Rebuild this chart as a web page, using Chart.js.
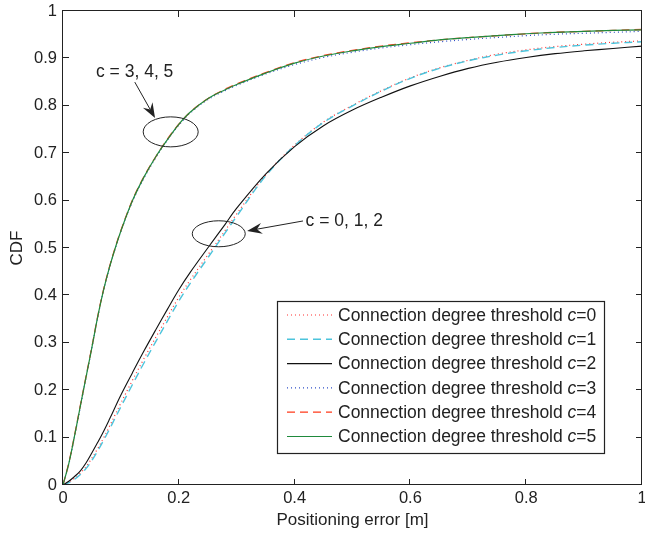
<!DOCTYPE html>
<html>
<head>
<meta charset="utf-8">
<script src="https://cdn.jsdelivr.net/npm/chart.js@4.4.0/dist/chart.umd.min.js"></script>
<style>
  html, body { margin: 0; padding: 0; background: #fff; }
</style>
</head>
<body>
<canvas id="cdf" width="645" height="533"></canvas>
<script>
// positioning error CDF for connection degree thresholds c = 0..5

const errX = [0, 0.01, 0.02, 0.03, 0.04, 0.05, 0.06, 0.07, 0.08, 0.09, 0.1, 0.12, 0.14, 0.16, 0.18, 0.2,
  0.22, 0.25, 0.28, 0.3, 0.35, 0.4, 0.45, 0.5, 0.55, 0.6, 0.65, 0.7, 0.75, 0.8, 0.85, 0.9, 0.95, 1.0];

const cdfC0 = [0, 0.006, 0.014, 0.025, 0.039, 0.057, 0.077, 0.099, 0.123, 0.148, 0.173, 0.221, 0.267, 0.311, 0.354, 0.396,
  0.433, 0.485, 0.537, 0.572, 0.654, 0.717, 0.766, 0.801, 0.832, 0.859, 0.880, 0.896, 0.909, 0.918, 0.925, 0.930, 0.934, 0.937];
const cdfC1 = [0, 0.005, 0.012, 0.022, 0.035, 0.052, 0.072, 0.094, 0.117, 0.141, 0.165, 0.212, 0.258, 0.302, 0.345, 0.388,
  0.426, 0.479, 0.532, 0.567, 0.652, 0.716, 0.765, 0.800, 0.831, 0.858, 0.879, 0.895, 0.907, 0.916, 0.923, 0.928, 0.932, 0.935];
const cdfC2 = [0, 0.008, 0.018, 0.030, 0.047, 0.068, 0.090, 0.113, 0.138, 0.164, 0.190, 0.237, 0.283, 0.327, 0.370, 0.412,
  0.449, 0.500, 0.550, 0.584, 0.656, 0.714, 0.758, 0.791, 0.818, 0.842, 0.862, 0.879, 0.892, 0.902, 0.910, 0.916, 0.921, 0.926];
const cdfC3 = [0, 0.044, 0.102, 0.165, 0.228, 0.290, 0.354, 0.410, 0.457, 0.498, 0.535, 0.598, 0.648, 0.690, 0.727, 0.759,
  0.785, 0.813, 0.832, 0.843, 0.867, 0.887, 0.902, 0.913, 0.922, 0.929, 0.935, 0.940, 0.944, 0.948, 0.951, 0.953, 0.955, 0.957];
const cdfC4 = [0, 0.046, 0.105, 0.168, 0.230, 0.292, 0.356, 0.412, 0.459, 0.500, 0.537, 0.601, 0.651, 0.692, 0.729, 0.761,
  0.787, 0.815, 0.835, 0.846, 0.870, 0.891, 0.906, 0.917, 0.926, 0.933, 0.939, 0.944, 0.948, 0.952, 0.955, 0.957, 0.959, 0.961];
const cdfC5 = [0, 0.045, 0.104, 0.167, 0.229, 0.291, 0.355, 0.411, 0.458, 0.499, 0.536, 0.600, 0.650, 0.692, 0.728, 0.761,
  0.787, 0.815, 0.834, 0.845, 0.869, 0.890, 0.905, 0.916, 0.925, 0.932, 0.939, 0.944, 0.948, 0.952, 0.955, 0.957, 0.959, 0.960];

const xTicks = [0, 0.2, 0.4, 0.6, 0.8, 1];
const yTicks = [0, 0.1, 0.2, 0.3, 0.4, 0.5, 0.6, 0.7, 0.8, 0.9, 1];
const thresholds = ['0', '1', '2', '3', '4', '5'];

const FONT = "'Liberation Sans', Arial, Helvetica, sans-serif";
const INK = '#222';

const styles = [
  { color: '#ff3030', dash: [1, 3], width: 1.2 },
  { color: '#4cc4dc', dash: [8, 5], width: 1.4 },
  { color: '#111111', dash: [],     width: 1.1 },
  { color: '#3050c8', dash: [1, 3], width: 1.2 },
  { color: '#ff3a1a', dash: [8, 5], width: 1.3 },
  { color: '#1f8a3c', dash: [],     width: 1.2 }
];
const series = [cdfC0, cdfC1, cdfC2, cdfC3, cdfC4, cdfC5];

const datasets = series.map((vals, i) => ({
  label: 'Connection degree threshold c=' + thresholds[i],
  data: errX.map((x, k) => ({ x: x, y: vals[k] })),
  borderColor: styles[i].color,
  borderDash: styles[i].dash,
  borderWidth: styles[i].width,
  pointRadius: 0,
  fill: false,
  tension: 0.35,
  order: series.length - i
}));

// annotations in data coords, arrows go from tail to tip
const notes = [
  { text: 'c = 3, 4, 5', tx: 0.057, ty: 0.870, tail: [0.124, 0.850], tip: [0.159, 0.774], ell: [0.186, 0.745], rx: 27.5, ry: 15 },
  { text: 'c = 0, 1, 2', tx: 0.419, ty: 0.556, tail: [0.4145, 0.557], tip: [0.318, 0.536], ell: [0.269, 0.530], rx: 26.5, ry: 13 }
];

function drawArrow(ctx, x1, y1, x2, y2) {
  const a = Math.atan2(y2 - y1, x2 - x1);
  const L = 15, W = 5.5, N = 10;
  const c = Math.cos(a), s = Math.sin(a);
  const bx = x2 - L * c, by = y2 - L * s;
  const nx = x2 - N * c, ny = y2 - N * s;
  ctx.beginPath();
  ctx.moveTo(x1, y1);
  ctx.lineTo(nx, ny);
  ctx.stroke();
  ctx.beginPath();
  ctx.moveTo(x2, y2);
  ctx.lineTo(bx - W * s, by + W * c);
  ctx.lineTo(nx, ny);
  ctx.lineTo(bx + W * s, by - W * c);
  ctx.closePath();
  ctx.fill();
}

const extras = {
  id: 'extras',
  afterDatasetsDraw(chart) {
    const { ctx, chartArea: a, scales: { x, y } } = chart;
    ctx.save();

    // box + inward ticks, matlab style
    ctx.strokeStyle = INK;
    ctx.lineWidth = 1;
    ctx.setLineDash([]);
    ctx.beginPath();
    xTicks.forEach(v => {
      const px = Math.round(x.getPixelForValue(v)) - 0.5;
      ctx.moveTo(px, a.bottom); ctx.lineTo(px, a.bottom - 6);
      ctx.moveTo(px, a.top); ctx.lineTo(px, a.top + 6);
    });
    yTicks.forEach(v => {
      const py = Math.round(y.getPixelForValue(v)) - 0.5;
      ctx.moveTo(a.left, py); ctx.lineTo(a.left + 6, py);
      ctx.moveTo(a.right, py); ctx.lineTo(a.right - 6, py);
    });
    ctx.stroke();
    ctx.strokeRect(a.left - 0.5, a.top - 0.5, a.right - a.left, a.bottom - a.top);

    // annotations
    ctx.fillStyle = INK;
    ctx.strokeStyle = INK;
    ctx.font = '17.5px ' + FONT;
    ctx.textBaseline = 'middle';
    ctx.textAlign = 'left';
    notes.forEach(n => {
      ctx.fillText(n.text, x.getPixelForValue(n.tx), y.getPixelForValue(n.ty));
      ctx.beginPath();
      ctx.ellipse(x.getPixelForValue(n.ell[0]), y.getPixelForValue(n.ell[1]), n.rx, n.ry, 0, 0, Math.PI * 2);
      ctx.stroke();
      drawArrow(ctx, x.getPixelForValue(n.tail[0]), y.getPixelForValue(n.tail[1]),
        x.getPixelForValue(n.tip[0]), y.getPixelForValue(n.tip[1]));
    });

    // legend box
    const lx = 277.5, ly = 301.5, lw = 327, lh = 152;
    ctx.fillStyle = '#fff';
    ctx.fillRect(lx, ly, lw, lh);
    ctx.lineWidth = 1.2;
    ctx.strokeRect(lx, ly, lw, lh);
    chart.data.datasets.forEach((ds, i) => {
      const rowY = 316 + i * 24.3;
      ctx.save();
      ctx.strokeStyle = ds.borderColor;
      ctx.lineWidth = ds.borderWidth;
      ctx.setLineDash(ds.borderDash);
      ctx.beginPath();
      ctx.moveTo(287, rowY - 1);
      ctx.lineTo(332, rowY - 1);
      ctx.stroke();
      ctx.restore();
      let tx = 338;
      ctx.fillStyle = INK;
      ctx.font = '17.5px ' + FONT;
      const head = 'Connection degree threshold ';
      ctx.fillText(head, tx, rowY);
      tx += ctx.measureText(head).width;
      ctx.font = 'italic 17.5px ' + FONT;
      ctx.fillText('c', tx, rowY);
      tx += ctx.measureText('c').width;
      ctx.font = '17.5px ' + FONT;
      ctx.fillText('=' + thresholds[i], tx, rowY);
    });
    ctx.restore();
  }
};

new Chart(document.getElementById('cdf').getContext('2d'), {
  type: 'line',
  data: { datasets },
  options: {
    responsive: false,
    animation: false,
    layout: { padding: { top: 11, right: 3, left: 0, bottom: 0 } },
    plugins: { legend: { display: false }, tooltip: { enabled: false } },
    scales: {
      x: {
        type: 'linear', min: 0, max: 1,
        afterBuildTicks: s => { s.ticks = xTicks.map(v => ({ value: v })); },
        afterFit: s => { s.height = 48; s.paddingLeft = 0; s.paddingRight = 0; },
        grid: { display: false, drawTicks: false },
        border: { display: false },
        ticks: { padding: 4, color: INK, font: { family: FONT, size: 16.5 }, maxRotation: 0, autoSkip: false,
          callback: v => String(+v.toFixed(1)) },
        title: { display: true, text: 'Positioning error [m]', color: INK, font: { family: FONT, size: 17 }, padding: { top: 0, bottom: 2 } }
      },
      y: {
        type: 'linear', min: 0, max: 1,
        afterBuildTicks: s => { s.ticks = yTicks.map(v => ({ value: v })); },
        afterFit: s => { s.width = 63; s.paddingTop = 0; s.paddingBottom = 0; },
        grid: { display: false, drawTicks: false },
        border: { display: false },
        ticks: { padding: 6, color: INK, font: { family: FONT, size: 16.5 }, autoSkip: false,
          callback: v => String(+v.toFixed(1)) },
        title: { display: true, text: 'CDF', color: INK, font: { family: FONT, size: 17 }, padding: { top: 7, bottom: 0 } }
      }
    }
  },
  plugins: [extras]
});
</script>
</body>
</html>
